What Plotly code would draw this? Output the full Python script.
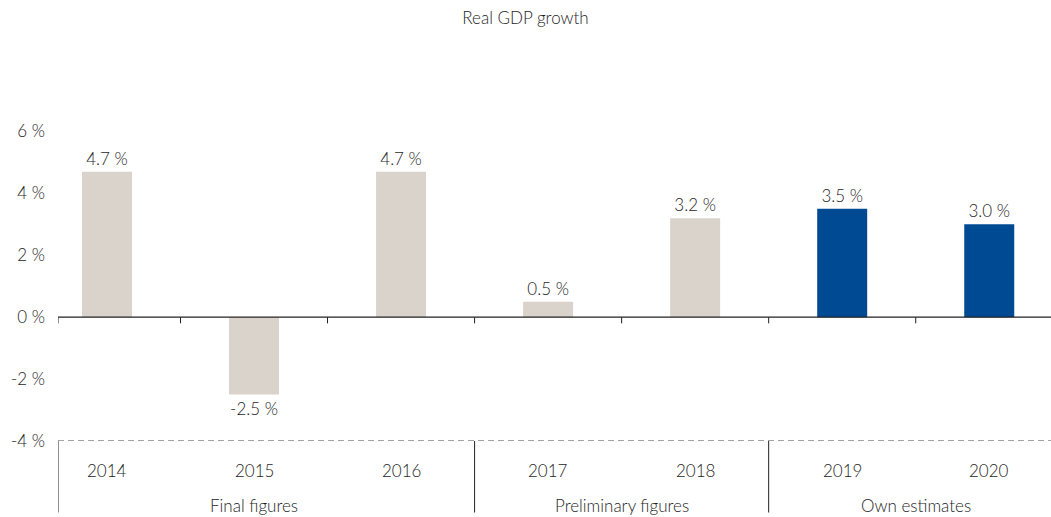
import plotly.graph_objects as go

# Real GDP growth, % year on year
years = ["2014", "2015", "2016", "2017", "2018", "2019", "2020"]
growth = [4.7, -2.5, 4.7, 0.5, 3.2, 3.5, 3.0]
value_labels = ["4.7 %", "-2.5 %", "4.7 %", "0.5 %", "3.2 %", "3.5 %", "3.0 %"]
estimate_flag = [False, False, False, False, False, True, True]

groups = ["Final figures", "Preliminary figures", "Own estimates"]
group_spans = [(0, 2), (3, 4), (5, 6)]

y_ticks = [-4, -2, 0, 2, 4, 6]
y_ticktext = ["-4 %", "-2 %", "0 %", "2 %", "4 %", "6 %"]

BEIGE = "#D9D3CC"
BLUE = "#004A93"
TEXT = "#1E1E1E"
FONT = "Lato"
FSIZE = 17
FWEIGHT = 300

def font(size=FSIZE):
    return dict(size=size, color=TEXT, family=FONT, weight=FWEIGHT)

x_idx = list(range(len(years)))
colors = [BLUE if e else BEIGE for e in estimate_flag]

fig = go.Figure()
fig.add_trace(go.Bar(
    x=x_idx, y=growth, width=0.34,
    marker=dict(color=colors, line=dict(width=0)),
    text=value_labels, textposition="outside", cliponaxis=False,
    textfont=font(),
    hoverinfo="skip",
))

x_left, x_right = -0.333, 6.42
y_min, y_max = -4, 6.5

shapes = []
# zero line
shapes.append(dict(type="line", xref="paper", yref="y", x0=0, x1=1, y0=0, y1=0,
                   line=dict(color="#222222", width=1.3)))
# small ticks on the zero line
tick_pos = [x_left] + [i + 0.5 for i in range(len(years) - 1)]
for t in tick_pos:
    shapes.append(dict(type="line", xref="x", yref="y", x0=t, x1=t, y0=0, y1=-0.2,
                       line=dict(color="#222222", width=1)))
# dashed baseline at the bottom of the value axis
shapes.append(dict(type="line", xref="paper", yref="y", x0=0, x1=1, y0=y_min, y1=y_min,
                   line=dict(color="#444444", width=1, dash="6px,4px")))
# group separators below the plot
sep_pos = [x_left] + [group_spans[g][0] - 0.5 for g in range(1, len(groups))]
for s in sep_pos:
    shapes.append(dict(type="line", xref="x", yref="paper", x0=s, x1=s, y0=0, y1=-0.22,
                       line=dict(color="#222222", width=1)))

annotations = []
for i, yr in enumerate(years):
    annotations.append(dict(x=i, y=0, xref="x", yref="paper", text=yr, showarrow=False,
                            yanchor="middle", yshift=-29, font=font()))
for g, (a, b) in zip(groups, group_spans):
    annotations.append(dict(x=(a + b) / 2, y=0, xref="x", yref="paper", text=g, showarrow=False,
                            yanchor="middle", yshift=-64, font=font()))

fig.update_layout(
    width=1051, height=517,
    margin=dict(l=58, r=0, t=116, b=76),
    paper_bgcolor="white", plot_bgcolor="white",
    showlegend=False,
    title=dict(text="Real GDP growth", x=0.5, xanchor="center", y=1 - 18 / 517, yanchor="middle",
               font=font()),
    xaxis=dict(range=[x_left, x_right], visible=False, fixedrange=True),
    yaxis=dict(range=[y_min, y_max], tickvals=y_ticks, ticktext=y_ticktext,
               showgrid=False, zeroline=False, showline=False, ticks="",
               ticklabelstandoff=12, tickfont=font(), fixedrange=True),
    shapes=shapes,
    annotations=annotations,
)

fig.write_html("out.html")
